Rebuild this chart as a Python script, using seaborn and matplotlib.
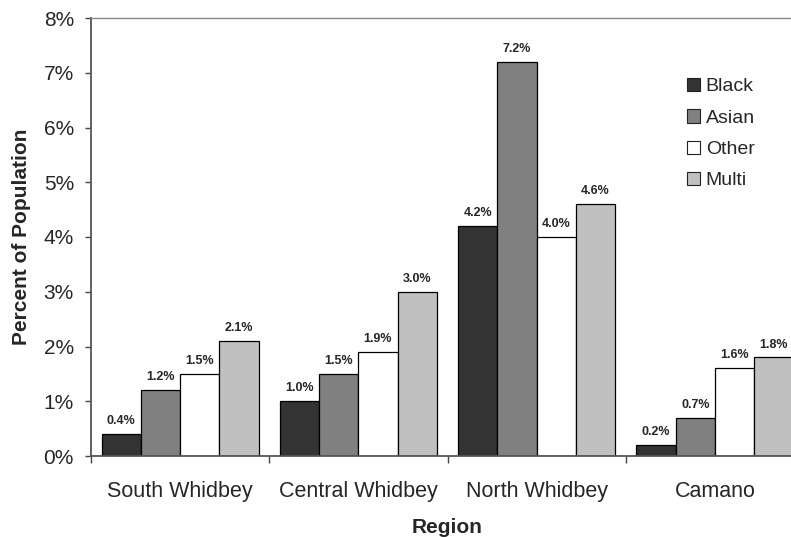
import matplotlib
matplotlib.use("Agg")
import matplotlib.pyplot as plt
import seaborn as sns
import pandas as pd
from matplotlib.ticker import FuncFormatter, FixedLocator

regions = ["South Whidbey", "Central Whidbey", "North Whidbey", "Camano"]
groups = ["Black", "Asian", "Other", "Multi"]
black = [0.4, 1.0, 4.2, 0.2]
asian = [1.2, 1.5, 7.2, 0.7]
other = [1.5, 1.9, 4.0, 1.6]
multi = [2.1, 3.0, 4.6, 1.8]
palette = ["#333333", "#808080", "#ffffff", "#c0c0c0"]

df = pd.DataFrame({
    "Region": regions * 4,
    "Group": [g for g in groups for _ in regions],
    "Percent": black + asian + other + multi,
})

sns.set_style("white")
plt.rcParams["font.family"] = ["Liberation Sans", "DejaVu Sans"]

fig = plt.figure(figsize=(7.91, 5.37), dpi=100)
ax = fig.add_axes([91 / 791, 81 / 537, 713 / 791, 438 / 537])

sns.barplot(data=df, x="Region", y="Percent", hue="Group", hue_order=groups,
            order=regions, palette=palette, width=0.88, gap=0,
            edgecolor="black", linewidth=0.9, saturation=1, ax=ax, legend=True)

for cont in ax.containers:
    ax.bar_label(cont, labels=[f"{v:.1f}%" for v in cont.datavalues],
                 padding=5, fontsize=9, fontweight="bold")

ax.set_ylim(0, 8)
ax.set_xlim(-0.5, 3.5)
ax.yaxis.set_major_formatter(FuncFormatter(lambda v, _: f"{v:.0f}%"))
ax.set_yticks(range(0, 9))
ax.tick_params(axis="y", which="major", length=4.3, width=1, color="#444444",
               labelsize=15, direction="out", left=True, pad=8)
ax.tick_params(axis="x", which="major", length=0, labelsize=15.5, pad=18)
ax.xaxis.set_minor_locator(FixedLocator([-0.5, 0.5, 1.5, 2.5, 3.5]))
ax.tick_params(axis="x", which="minor", length=5, width=1, color="#444444",
               direction="out", bottom=True)

for side in ["left", "bottom"]:
    ax.spines[side].set_color("#555555")
    ax.spines[side].set_linewidth(1.3)
ax.spines["top"].set_color("#888888")
ax.spines["top"].set_linewidth(1.0)
ax.spines["right"].set_visible(False)

# axis titles
ax.set_xlabel("Region", fontsize=15, fontweight="bold")
ax.xaxis.set_label_coords((447 - 91) / 713, -(518 - 456) / 438)
ax.set_ylabel("Percent of Population", fontsize=15, fontweight="bold", labelpad=9)

leg = ax.legend(loc="upper left", bbox_to_anchor=(687 / 791, 1 - 78 / 537),
                bbox_transform=fig.transFigure, frameon=False, fontsize=14,
                handlelength=0.68, handleheight=0.68, handletextpad=0.28,
                labelspacing=0.71, borderaxespad=0, borderpad=0)
for h in leg.legend_handles:
    h.set_edgecolor("#222222")
    h.set_linewidth(0.8)

fig.savefig("out.png", dpi=100)
